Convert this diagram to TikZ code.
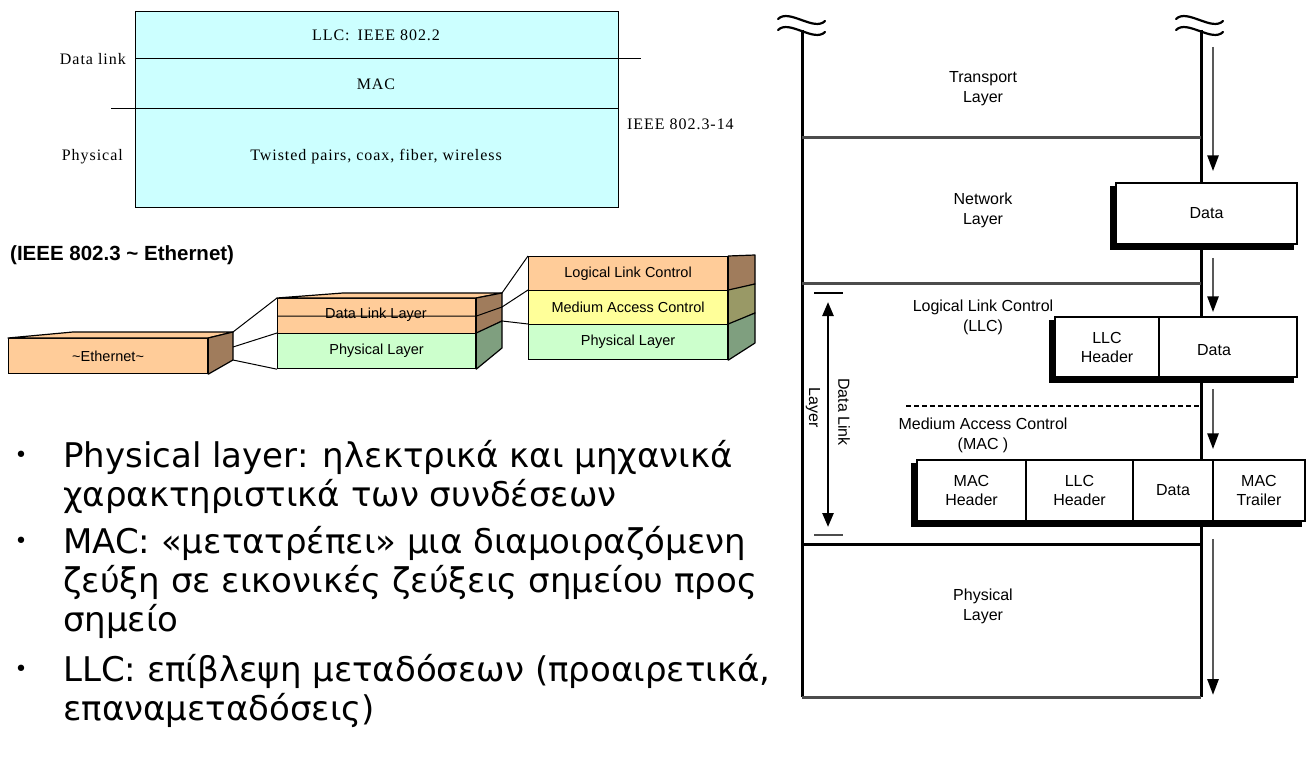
\documentclass[tikz,border=0pt]{standalone}
\usepackage{fontspec}
\setmainfont{Liberation Serif}
\newfontfamily\timesf[LetterSpace=6]{Liberation Serif}
\newfontfamily\arialf{Liberation Sans}
\newfontfamily\bulf{DejaVu Sans}
\usetikzlibrary{arrows.meta}
\definecolor{cyanbg}{HTML}{CCFFFF}
\definecolor{orng}{HTML}{FFCC99}
\definecolor{brn}{HTML}{A07C5C}
\definecolor{ylw}{HTML}{FFFF99}
\definecolor{olv}{HTML}{999966}
\definecolor{grn}{HTML}{CCFFCC}
\definecolor{dgrn}{HTML}{7F9F7F}
\tikzset{
 serift/.style={font=\timesf\fontsize{16}{19}\selectfont, inner sep=0},
 layerbox/.style={draw=black, line width=1.2pt, inner sep=0, anchor=north west, font=\arialf\fontsize{14.5}{17}\selectfont},
 facet/.style={draw=black, line width=1.2pt, line join=round},
 thinlink/.style={draw=black, line width=1pt},
 titletxt/.style={font=\arialf\bfseries\fontsize{20.5}{24}\selectfont, inner sep=0},
 stacktxt/.style={font=\arialf\fontsize{14.5}{17}\selectfont, inner sep=0},
 ositxt/.style={font=\arialf\fontsize{16}{20}\selectfont, align=center, inner sep=0},
 wall/.style={line width=3pt, black},
 sepline/.style={line width=3pt, black!70},
 cellbox/.style={draw=black, fill=white, line width=1.5pt, inner sep=0, align=center, font=\arialf\fontsize{16}{19}\selectfont},
 shadowfill/.style={fill=black},
 flow/.style={line width=2.8pt, black!65, -{Triangle[length=16pt, width=11pt, color=black]}},
 dlarrow/.style={line width=2.5pt, black, {Triangle[length=14pt, width=11pt]}-{Triangle[length=14pt, width=11pt]}},
 tildeline/.style={line width=2.2pt, black, line cap=round},
 bultxt/.style={font=\bulf\fontsize{34}{39}\selectfont, anchor=base west, inner sep=0},
 bulmark/.style={font=\bulf\fontsize{22}{22}\selectfont, inner sep=0},
}
\begin{document}
\begin{tikzpicture}[x=1pt,y=-1pt]
\useasboundingbox (0,0) rectangle (1308,776);
\fill[white] (0,0) rectangle (1308,776);

% ---------------- top box ----------------
\node[draw=black, fill=cyanbg, line width=1pt, minimum width=483pt, minimum height=196pt, inner sep=0, anchor=north west] (osi) at (135,11) {};
\draw[line width=1pt] (135,59) -- (641,59);
\draw[line width=1pt] (111,108) -- (618,108);
\node[serift] (llct) at (376,35) {LLC:\enspace IEEE 802.2};
\node[serift] (mact) at (376,84) {MAC};
\node[serift] (twt) at (376,157) {Twisted pairs, coax, fiber, wireless};
\node[serift, anchor=east] (dlkt) at (126,59) {Data link};
\node[serift, anchor=east] (phyt) at (123,157) {Physical};
\node[serift, anchor=west] (ieeet) at (627,124) {IEEE 802.3-14};

% ---------------- 3D stacks ----------------
\node[titletxt, anchor=west] (title) at (10,255) {(IEEE 802.3 \textasciitilde{} Ethernet)};

% Ethernet box
\node[layerbox, fill=orng, minimum width=199pt, minimum height=35pt] (eth) at (8,338) {\textasciitilde Ethernet\textasciitilde};
\coordinate (ethA) at (233,332);
\coordinate (ethB) at (233,347);
\coordinate (ethC) at (233,360);
\filldraw[facet, fill=orng] (eth.north west) -- (eth.north east) -- (ethA) -- (73,332) -- cycle;
\filldraw[facet, fill=brn] (eth.north east) -- (ethA) -- (ethC) -- (eth.south east) -- cycle;

% middle stack
\node[layerbox, fill=orng, minimum width=198pt, minimum height=35pt] (dll) at (277,298) {};
\node[layerbox, fill=grn, minimum width=198pt, minimum height=35pt] (phl) at (277,333) {Physical Layer};
\coordinate (midA) at (502,293);
\coordinate (midB) at (502,307);
\coordinate (midC) at (502,321);
\coordinate (midD) at (502,348);
\filldraw[facet, fill=orng] (dll.north west) -- (dll.north east) -- (midA) -- (343,293) -- cycle;
\filldraw[facet, fill=brn] (dll.north east) -- (midA) -- (midC) -- (dll.south east) -- cycle;
\filldraw[facet, fill=dgrn] (phl.north east) -- (midC) -- (midD) -- (phl.south east) -- cycle;
\node[stacktxt] (dllt) at (376,315) {Data Link Layer};
\draw[thinlink] (dll.west) -- (dll.east) -- (midB);

\draw[thinlink] (ethA) -- (dll.north west);
\draw[thinlink] (ethB) -- (phl.north west);
\draw[thinlink] (ethC) -- (phl.south west);

% right stack
\node[layerbox, fill=orng, minimum width=199pt, minimum height=34pt] (llcS) at (528,256) {Logical Link Control};
\node[layerbox, fill=ylw, minimum width=199pt, minimum height=34pt] (macS) at (528,290) {Medium Access Control};
\node[layerbox, fill=grn, minimum width=199pt, minimum height=35pt] (phyS) at (528,324) {Physical Layer};
\filldraw[facet, fill=brn] (llcS.north east) -- (755,255) -- (755,284) -- (llcS.south east) -- cycle;
\filldraw[facet, fill=olv] (macS.north east) -- (755,284) -- (755,313) -- (macS.south east) -- cycle;
\filldraw[facet, fill=dgrn] (phyS.north east) -- (755,313) -- (755,343) -- (phyS.south east) -- cycle;

\draw[thinlink] (midA) -- (llcS.north west);
\draw[thinlink] (midB) -- (macS.north west);
\draw[thinlink] (midC) -- (phyS.north west);

% ---------------- right OSI diagram ----------------
\draw[wall] (802,30) -- (802,697);
\draw[wall] (1201,30) -- (1201,697);
\foreach \dx in {0,398}{
 \draw[tildeline] (778+\dx,19) .. controls (789+\dx,8) and (814+\dx,32) .. (825+\dx,21);
 \draw[tildeline] (778+\dx,30) .. controls (789+\dx,19) and (814+\dx,43) .. (825+\dx,32);
}
\draw[sepline] (802,137) -- (1201,137);
\draw[sepline] (802,283) -- (1201,283);
\draw[wall] (802,544) -- (1201,544);
\draw[sepline] (802,697) -- (1201,697);
\draw[line width=1.6pt, dash pattern=on 5pt off 3pt] (906,406) -- (1201,406);

% layer names
\node[ositxt] (transp) at (983,89) {Transport\\Layer};
\node[ositxt] (netw) at (983,210) {Network\\Layer};
\node[ositxt] (llcn) at (983,317) {Logical Link Control\\(LLC)};
\node[ositxt] (macn) at (983,435) {Medium Access Control\\(MAC )};
\node[ositxt] (phyn) at (983,606) {Physical\\Layer};

% Data Link Layer span
\coordinate (dlt) at (828,302);
\coordinate (dlb) at (828,527);
\draw[line width=2.5pt] (814,293) -- (843,293);
\draw[line width=2.5pt, black!70] (814,535) -- (843,535);
\draw[dlarrow] (dlt) -- (dlb);
\node[ositxt, rotate=-90] (dltx) at (844,412) {Data Link};
\node[ositxt, rotate=-90] (lytx) at (813,408) {Layer};

% packet boxes with shadows
\fill[shadowfill] (1110,186) rectangle (1294,250);
\node[cellbox, minimum width=181pt, minimum height=61pt] (datan) at (1206.5,213.5) {Data};

\fill[shadowfill] (1049,320) rectangle (1294,383);
\node[cellbox, minimum width=104pt, minimum height=60pt] (llchd) at (1107,347) {LLC\\Header};
\node[cellbox, minimum width=138pt, minimum height=60pt] (llcdt) at (1228,347) {};
\node[ositxt] (llcdtx) at (1214,350) {Data};

\fill[shadowfill] (911,463) rectangle (1302,527);
\node[cellbox, minimum width=109pt, minimum height=61pt] (machd) at (971.5,490.5) {MAC\\Header};
\node[cellbox, minimum width=107pt, minimum height=61pt] (llch2) at (1079.5,490.5) {LLC\\Header};
\node[cellbox, minimum width=80pt, minimum height=61pt] (datm) at (1173,490.5) {Data};
\node[cellbox, minimum width=92pt, minimum height=61pt] (mact2) at (1259,490.5) {MAC\\Trailer};

% flow arrows
\coordinate (a0) at (1213,47);
\coordinate (a1) at (1213,695);
\draw[flow, shorten >=11pt] (a0) -- (a0 |- datan.north);
\draw[flow, shorten <=13pt, shorten >=4pt] (datan.south -| a0) -- (llchd.north -| a0);
\draw[flow, shorten <=11pt, shorten >=10pt] (llchd.south -| a0) -- (machd.north -| a0);
\draw[flow, shorten <=17pt] (machd.south -| a0) -- (a1);

% ---------------- bullets ----------------
\node[bulmark] (bm1) at (21,457) {•};
\node[bulmark] (bm2) at (21,543) {•};
\node[bulmark] (bm3) at (21,671) {•};
\node[bultxt] (l1) at (63,467) {Physical layer: ηλεκτρικά και μηχανικά};
\node[bultxt] (l2) at (63,506) {χαρακτηριστικά των συνδέσεων};
\node[bultxt] (l3) at (63,553) {MAC: «μετατρέπει» μια διαμοιραζόμενη};
\node[bultxt] (l4) at (63,592) {ζεύξη σε εικονικές ζεύξεις σημείου προς};
\node[bultxt] (l5) at (63,631) {σημείο};
\node[bultxt] (l6) at (63,681) {LLC: επίβλεψη μεταδόσεων (προαιρετικά,};
\node[bultxt] (l7) at (63,720) {επαναμεταδόσεις)};
\end{tikzpicture}
\end{document}
